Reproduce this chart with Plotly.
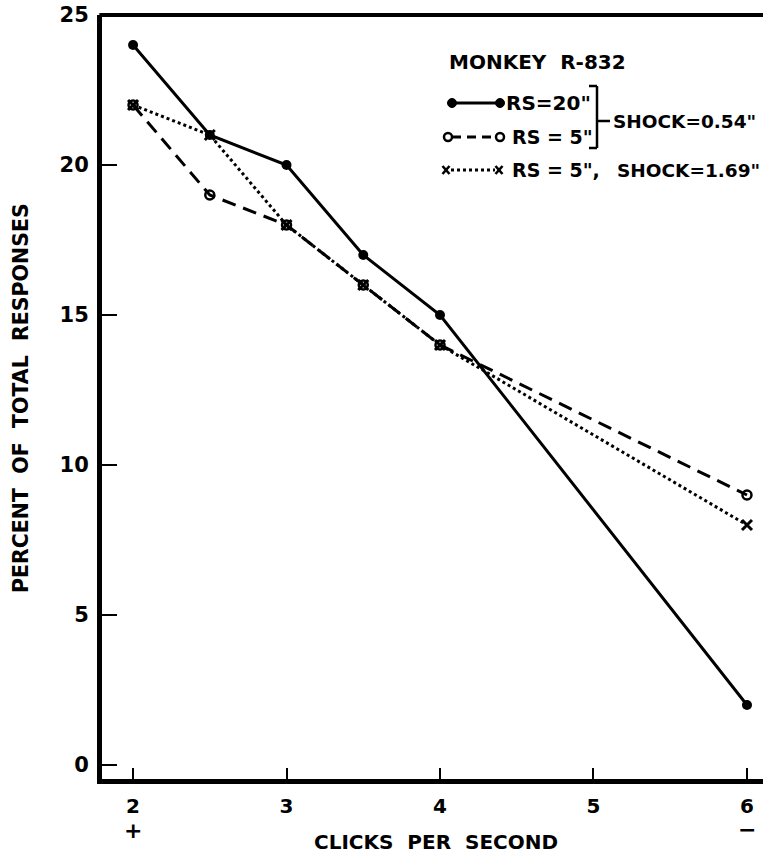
import plotly.graph_objects as go

# ---- data ----
clicks = [2, 2.5, 3, 3.5, 4, 6]
rs20_shock054 = [24, 21, 20, 17, 15, 2]
rs5_shock054 = [22, 19, 18, 16, 14, 9]
rs5_shock169 = [22, 21, 18, 16, 14, 8]

x_tick_vals = [2, 3, 4, 5, 6]
x_tick_text = ["2", "3", "4", "5", "6"]
y_tick_vals = [0, 5, 10, 15, 20, 25]
y_tick_text = ["0", "5", "10", "15", "20", "25"]

FONT = "DejaVu Sans"
W, H = 763, 854
L, R, T, B = 102, 0, 15, 75


def px(xp):
    return (xp - L) / (W - L - R)


def py(yp):
    return (H - B - yp) / (H - B - T)


def tfont(size):
    return dict(family=FONT, size=size, color="black", weight="bold")


fig = go.Figure()

fig.add_trace(go.Scatter(
    x=clicks, y=rs5_shock054, mode="lines+markers",
    line=dict(color="black", width=3, dash="14px,8px"),
    marker=dict(symbol="circle-open", size=9, color="black", line=dict(width=2.5)),
    showlegend=False))
fig.add_trace(go.Scatter(
    x=clicks, y=rs5_shock169, mode="lines+markers",
    line=dict(color="black", width=3, dash="3px,3px"),
    marker=dict(symbol="x-thin-open", size=10, color="black", line=dict(width=3, color="black")),
    showlegend=False))
fig.add_trace(go.Scatter(
    x=clicks, y=rs20_shock054, mode="lines+markers",
    line=dict(color="black", width=3),
    marker=dict(symbol="circle", size=10, color="black"),
    showlegend=False))

shapes = []
annotations = []

# top frame line
shapes.append(dict(type="line", xref="paper", yref="paper", x0=-0.004, x1=1, y0=1, y1=1,
                   line=dict(color="black", width=4)))

# legend title
annotations.append(dict(text="MONKEY  R-832", xref="paper", yref="paper",
                        x=px(447), y=py(62), xanchor="left", yanchor="middle",
                        showarrow=False, font=tfont(20)))

# legend row 1: solid, filled circles
r1 = 103
shapes.append(dict(type="line", xref="paper", yref="paper", x0=px(452), x1=px(500),
                   y0=py(r1), y1=py(r1), line=dict(color="black", width=3)))
for cx in (452, 500):
    shapes.append(dict(type="circle", xref="paper", yref="paper",
                       x0=px(cx - 4.5), x1=px(cx + 4.5), y0=py(r1 + 4.5), y1=py(r1 - 4.5),
                       fillcolor="black", line=dict(color="black", width=1)))
annotations.append(dict(text='RS=20"', xref="paper", yref="paper", x=px(504), y=py(r1),
                        xanchor="left", yanchor="middle", showarrow=False, font=tfont(20)))

# legend row 2: dashed, open circles
r2 = 137
shapes.append(dict(type="line", xref="paper", yref="paper", x0=px(452), x1=px(497),
                   y0=py(r2), y1=py(r2), line=dict(color="black", width=3, dash="9px,6px")))
for cx in (448, 500):
    shapes.append(dict(type="circle", xref="paper", yref="paper",
                       x0=px(cx - 4), x1=px(cx + 4), y0=py(r2 + 4), y1=py(r2 - 4),
                       fillcolor="white", line=dict(color="black", width=2.5)))
annotations.append(dict(text='RS = 5"', xref="paper", yref="paper", x=px(510), y=py(r2),
                        xanchor="left", yanchor="middle", showarrow=False, font=tfont(19)))

# bracket
for (x0, y0, x1, y1) in [(597, 86, 597, 148), (589, 86, 597, 86), (589, 148, 597, 148), (597, 121, 610, 121)]:
    shapes.append(dict(type="line", xref="paper", yref="paper", x0=px(x0), x1=px(x1),
                       y0=py(y0), y1=py(y1), line=dict(color="black", width=2.5)))
annotations.append(dict(text='SHOCK=0.54"', xref="paper", yref="paper", x=px(611), y=py(121),
                        xanchor="left", yanchor="middle", showarrow=False, font=tfont(18.5)))

# legend row 3: dotted, x markers
r3 = 170
shapes.append(dict(type="line", xref="paper", yref="paper", x0=px(451), x1=px(495),
                   y0=py(r3), y1=py(r3), line=dict(color="black", width=3, dash="3px,3px")))
for cx in (446, 499):
    for d in (1, -1):
        shapes.append(dict(type="line", xref="paper", yref="paper",
                           x0=px(cx - 3.5), x1=px(cx + 3.5), y0=py(r3 - 4 * d), y1=py(r3 + 4 * d),
                           line=dict(color="black", width=2.5)))
annotations.append(dict(text='RS = 5",', xref="paper", yref="paper", x=px(510), y=py(r3),
                        xanchor="left", yanchor="middle", showarrow=False, font=tfont(19)))
annotations.append(dict(text='SHOCK=1.69"', xref="paper", yref="paper", x=px(615), y=py(r3),
                        xanchor="left", yanchor="middle", showarrow=False, font=tfont(18.5)))

# + and - under end ticks
annotations.append(dict(text="+", x=2, xref="x", yref="paper", y=py(830), yanchor="middle",
                        showarrow=False, font=tfont(22)))
annotations.append(dict(text="\u2212", x=6, xref="x", yref="paper", y=py(829), yanchor="middle",
                        showarrow=False, font=tfont(22)))

# axis titles
annotations.append(dict(text="CLICKS  PER  SECOND", xref="paper", yref="paper",
                        x=px(436), y=py(842), xanchor="center", yanchor="middle",
                        showarrow=False, font=tfont(20)))
annotations.append(dict(text="PERCENT  OF  TOTAL  RESPONSES", xref="paper", yref="paper",
                        x=px(21), y=py(398), xanchor="center", yanchor="middle", textangle=-90,
                        showarrow=False, font=tfont(20.5)))

fig.update_layout(
    width=W, height=H,
    margin=dict(l=L, r=R, t=T, b=B),
    paper_bgcolor="white", plot_bgcolor="white",
    showlegend=False,
    shapes=shapes, annotations=annotations,
    xaxis=dict(range=[1.7977, 6.1044], tickvals=x_tick_vals, ticktext=x_tick_text,
               ticks="inside", ticklen=11, tickwidth=2, tickcolor="black",
               showline=True, linewidth=5, linecolor="black", showgrid=False, zeroline=False,
               tickfont=tfont(20), ticklabelstandoff=5),
    yaxis=dict(range=[-0.467, 25], tickvals=y_tick_vals, ticktext=y_tick_text,
               ticks="inside", ticklen=15, tickwidth=2, tickcolor="black",
               showline=True, linewidth=5, linecolor="black", showgrid=False, zeroline=False,
               tickfont=tfont(21), ticklabelstandoff=4),
)

fig.write_html("out.html", config={"displayModeBar": False},
               post_script="document.body.style.margin='0';document.body.style.overflow='hidden';")
